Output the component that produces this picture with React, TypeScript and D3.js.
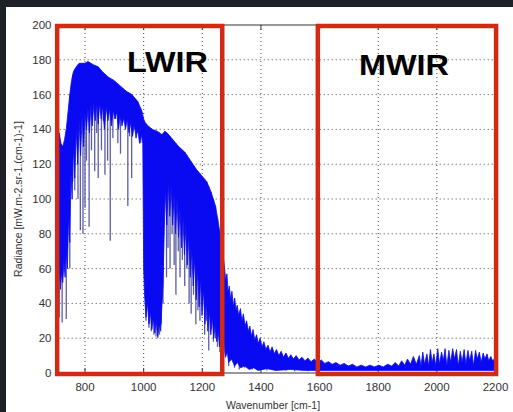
import React from 'react';
import * as d3 from 'd3';

const W = 513;
const H = 412;

const xTicks = [800, 1000, 1200, 1400, 1600, 1800, 2000, 2200];
const yTicks = [0, 20, 40, 60, 80, 100, 120, 140, 160, 180, 200];
const xGrid = [800, 1000, 1200, 1400, 1600, 1800, 2000];
const yGrid = [20, 40, 60, 80, 100, 120, 140, 160, 180];

// top edge of the blue spectrum trace
const upperWavenumber = [
  700, 706, 712, 718, 724, 730, 736, 742, 748, 754, 760, 770, 780, 790, 800, 810, 820, 830, 845, 860,
  880, 900, 920, 940, 960, 980, 995, 1000, 1005, 1015, 1030, 1045, 1055, 1062, 1068, 1072, 1080, 1090,
  1100, 1120, 1140, 1160, 1180, 1200, 1215, 1230, 1245, 1255, 1265, 1275,
  1280, 1284, 1288, 1292, 1297, 1301, 1306, 1310, 1315, 1319, 1324, 1330, 1335, 1340, 1346, 1351,
  1357, 1362, 1368, 1373, 1379, 1385, 1391, 1397, 1404, 1410, 1417, 1424, 1431, 1438, 1446, 1453,
  1461, 1469, 1477, 1485, 1494, 1502, 1511, 1520, 1530, 1540, 1550, 1560, 1571, 1582, 1594, 1606,
  1618, 1630, 1643, 1656, 1670, 1684, 1698, 1712, 1727, 1742, 1757, 1772, 1787, 1802, 1817, 1832,
  1846, 1858, 1870, 1880, 1890, 1900, 1910, 1920, 1930, 1940, 1946, 1952, 1958, 1966, 1972, 1978,
  1984, 1990, 1996, 2003, 2009, 2016, 2022, 2028, 2034, 2041, 2047, 2054, 2060, 2067, 2073, 2080,
  2086, 2093, 2099, 2106, 2112, 2119, 2125, 2132, 2138, 2145, 2151, 2158, 2164, 2171, 2177, 2184,
  2190, 2196, 2200,
];
const upperRadiance = [
  118, 128, 138, 132, 130, 134, 140, 150, 160, 168, 173, 176, 178, 178, 178, 179, 178, 177, 176, 173,
  170, 168, 165, 162, 160, 156, 150, 146, 144, 142, 140, 139, 138, 137, 138, 139, 138, 136,
  134, 130, 127, 122, 117, 113, 110, 104, 96, 86, 75, 62,
  53, 57, 46, 50, 42, 47, 38, 43, 36, 39, 33, 37, 30, 34, 27, 30,
  24, 27, 21, 25, 19, 22, 17, 20, 15, 18, 13.5, 16, 12, 15, 11, 13.5,
  10, 12.5, 9, 11.5, 8.5, 10.5, 8, 10, 7.5, 9, 7, 8.5, 6.5, 8, 6, 7.5,
  5.5, 6.5, 5, 6, 4.5, 5.5, 4, 5, 3.5, 4.5, 3.5, 4.5, 3.5, 4.5, 3.5, 5,
  4, 6, 4, 7, 4.5, 8, 5, 9.5, 5, 10, 4, 12, 5, 11, 4, 13.5,
  6, 11, 4, 14, 5, 12, 7, 14, 4, 13, 6, 14, 8, 13.5, 4, 12.5,
  6, 13.5, 5, 13, 7, 12.5, 4, 13, 8, 12, 6, 11.5, 8, 11, 7, 9.5,
  7, 8, 6,
];

// bottom edge of the dense blue part of the trace
const lowerWavenumber = [
  700, 704, 708, 712, 716, 720, 724, 728, 732, 736, 740, 744, 748, 752, 756, 760, 765, 770, 775, 780,
  785, 790, 795, 800, 805, 810, 815, 820, 825, 830, 835, 840, 845, 850, 855, 860, 866, 872, 878, 884,
  890, 896, 902, 908, 914, 920, 926, 932, 938, 944, 950, 956, 962, 968, 974, 980, 986, 992, 997,
  1000, 1003, 1008, 1013, 1018, 1023, 1028, 1033, 1038, 1043, 1048, 1053, 1058, 1062, 1066, 1070,
  1074, 1079, 1084, 1089, 1094, 1099, 1104, 1109, 1114, 1119, 1124, 1129, 1134, 1139, 1144, 1149,
  1154, 1159, 1164, 1169, 1174, 1179, 1184, 1189, 1194, 1199, 1204, 1209, 1214, 1219, 1224, 1229,
  1234, 1239, 1244, 1249, 1254, 1259, 1264, 1269, 1274, 1279, 1285, 1290, 1300, 1310, 1320, 1330,
  1345, 1360, 1375, 1390, 1420, 1450, 1500, 1550, 2200,
];
const lowerRadiance = [
  45, 60, 50, 62, 48, 58, 52, 64, 55, 70, 60, 90, 75, 115, 100, 130, 112, 140, 120, 145,
  125, 148, 130, 150, 140, 152, 138, 154, 142, 155, 145, 156, 143, 155, 146, 154, 140, 153, 145, 152,
  142, 151, 146, 150, 140, 148, 142, 147, 140, 146, 138, 144, 136, 143, 135, 140, 132, 137, 132,
  60, 45, 32, 40, 28, 35, 25, 32, 23, 30, 21, 28, 24, 38, 50, 80,
  105, 85, 110, 90, 108, 85, 104, 80, 100, 78, 95, 72, 90, 68, 85, 62,
  80, 55, 72, 50, 66, 42, 60, 38, 54, 33, 48, 28, 42, 24, 36, 22,
  32, 20, 28, 18, 24, 15, 20, 12, 16, 9, 12, 6, 8, 4, 6, 3,
  4, 2, 3, 1.5, 2.5, 1.5, 2, 1.5, 1.5,
];

// deep absorption lines: wavenumber and the radiance they drop to
const lineWavenumber = [
  712, 722, 736, 748, 758, 765, 776, 784, 793, 800, 805, 814, 822, 833, 840, 845, 856, 862, 868, 877,
  886, 895, 904, 912, 921, 929, 938, 946, 952, 959, 970, 980, 990,
  1008, 1018, 1026, 1035, 1042, 1048, 1054, 1060, 1066,
  1078, 1083, 1090, 1097, 1104, 1110, 1118, 1124, 1132, 1140, 1147, 1155, 1162, 1170, 1178, 1185,
  1192, 1200, 1208, 1215, 1222, 1230, 1238, 1245, 1252, 1260, 1268,
  1290, 1310, 1326, 1345, 1370, 1392, 1420, 1450, 1485, 1515, 1560,
];
const lineMinimum = [
  32, 29, 31, 60, 110, 105, 100, 82, 80, 95, 122, 84, 128, 116, 138, 112, 128, 145, 114, 122,
  76, 135, 146, 132, 126, 144, 146, 96, 136, 112, 140, 138, 132,
  30, 26, 24, 22, 21, 20, 22, 28, 40,
  55, 72, 60, 80, 62, 45, 70, 55, 65, 50, 60, 40, 34, 45, 28, 36,
  30, 40, 22, 30, 13, 25, 18, 20, 15, 12, 10,
  4, 3, 2, 3, 2, 2, 1.5, 1.5, 1.5, 1, 1,
];

const bandNames = ['LWIR', 'MWIR'];
const bandStart = [705, 1594];
const bandEnd = [1268, 2202];

const FONT = '"Liberation Sans", Arial, Helvetica, sans-serif';

export default function App() {
  const x = d3.scaleLinear().domain([700, 2200]).range([55.7, 495.5]);
  const y = d3.scaleLinear().domain([0, 200]).range([373, 25]);
  const upperAt = d3.scaleLinear().domain(upperWavenumber).range(upperRadiance);

  const upperPts: [number, number][] = upperWavenumber.map((w, i) => [x(w), y(upperRadiance[i])]);
  const lowerPts: [number, number][] = lowerWavenumber.map((w, i) => [x(w), y(lowerRadiance[i])]);
  const outline = d3.line()(upperPts.concat(lowerPts.slice().reverse())) + 'Z';

  const x0 = x(700);
  const x1 = x(2200);
  const yTop = y(200);
  const yBot = y(0);

  return (
    <svg
      width={W}
      height={H}
      style={{ position: 'absolute', left: 0, top: 0, display: 'block' }}
      fontFamily={FONT}
    >
      <rect x={0} y={0} width={W} height={H} fill="#ffffff" />
      <rect x={0} y={0} width={W} height={7} fill="#1f2128" />
      <rect x={0} y={0} width={6} height={H} fill="#1f2128" />

      {/* grid */}
      {xGrid.map((t) => (
        <line key={'gx' + t} x1={x(t)} x2={x(t)} y1={yTop} y2={yBot} stroke="#444" strokeWidth={1} strokeDasharray="1 3" />
      ))}
      {yGrid.map((t) => (
        <line key={'gy' + t} x1={x0} x2={x1} y1={y(t)} y2={y(t)} stroke="#444" strokeWidth={1} strokeDasharray="1 3" />
      ))}

      {/* axes box */}
      <rect x={x0} y={yTop} width={x1 - x0} height={yBot - yTop} fill="none" stroke="#333" strokeWidth={1} />
      {xTicks.map((t) => (
        <g key={'tx' + t}>
          <line x1={x(t)} x2={x(t)} y1={yBot} y2={yBot - 5} stroke="#333" />
          <line x1={x(t)} x2={x(t)} y1={yTop} y2={yTop + 5} stroke="#333" />
        </g>
      ))}

      {/* absorption lines */}
      {lineWavenumber.map((w, i) => (
        <line
          key={'ln' + i}
          x1={x(w)}
          x2={x(w)}
          y1={y(upperAt(w))}
          y2={y(lineMinimum[i])}
          stroke="#5c5ca6"
          strokeWidth={1.3}
        />
      ))}

      {/* spectrum */}
      <path d={outline} fill="#0a0af2" stroke="#0a0af2" strokeWidth={0.8} strokeLinejoin="round" />

      {/* band boxes */}
      {bandNames.map((b, i) => (
        <rect
          key={'band' + b}
          x={x(bandStart[i])}
          y={yTop + 1}
          width={x(bandEnd[i]) - x(bandStart[i])}
          height={yBot - yTop}
          fill="none"
          stroke="#d42a14"
          strokeWidth={4.5}
        />
      ))}
      <text x={167.5} y={72} fontSize={30} fontWeight="bold" textAnchor="middle" fill="#000" textLength={81} lengthAdjust="spacingAndGlyphs">
        {bandNames[0]}
      </text>
      <text x={404} y={74.5} fontSize={30} fontWeight="bold" textAnchor="middle" fill="#000" textLength={90} lengthAdjust="spacingAndGlyphs">
        {bandNames[1]}
      </text>

      {/* tick labels */}
      {xTicks.map((t) => (
        <text key={'lx' + t} x={x(t)} y={391} fontSize={11.5} textAnchor="middle" fill="#333">
          {t}
        </text>
      ))}
      {yTicks.map((t) => (
        <text key={'ly' + t} x={51.5} y={y(t) + 4} fontSize={11.5} textAnchor="end" fill="#333">
          {t}
        </text>
      ))}
      <text x={273} y={409} fontSize={10.5} textAnchor="middle" fill="#333">
        Wavenumber [cm-1]
      </text>
      <text transform="translate(22,199) rotate(-90)" fontSize={10.5} textAnchor="middle" fill="#333">
        Radiance [mW.m-2.sr-1.(cm-1)-1]
      </text>
    </svg>
  );
}
